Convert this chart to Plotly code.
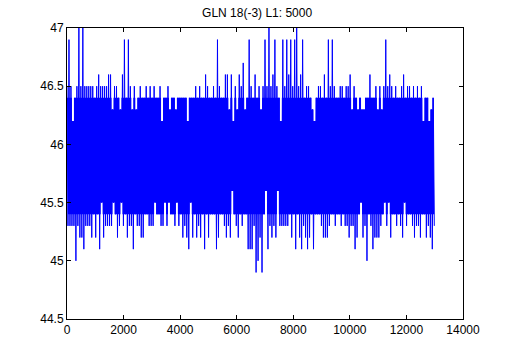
import plotly.graph_objects as go

title_text = "GLN 18(-3) L1: 5000"

# samples represented by each block (upper/lower extent of the signal in that block)
samples_per_block = 70

upper = [
    46.5, 46.9, 46.5, 46.2, 46.4, 46.5, 47.0, 46.5, 47.0, 46.5,
    46.5, 46.5, 46.5, 46.5, 46.4, 46.5, 46.6, 46.5, 46.5, 46.5,
    46.5, 46.6, 46.6, 46.3, 46.5, 46.5, 46.4, 46.3, 46.6, 46.9,
    46.4, 46.9, 46.5, 46.3, 46.5, 46.3, 46.4, 46.5, 46.4, 46.4,
    46.5, 46.4, 46.5, 46.4, 46.5, 46.4, 46.4, 46.5, 46.2, 46.4,
    46.4, 46.5, 46.3, 46.4, 46.4, 46.3, 46.4, 46.4, 46.4, 46.4,
    46.4, 46.2, 46.4, 46.4, 46.4, 46.5, 46.4, 46.5, 46.4, 46.4,
    46.6, 46.5, 46.4, 46.4, 46.5, 46.4, 46.9, 46.5, 46.4, 46.4,
    46.6, 46.6, 46.3, 46.6, 46.2, 46.5, 46.3, 46.6, 46.5, 46.7,
    46.3, 46.4, 46.9, 46.5, 46.4, 46.6, 46.4, 46.5, 46.3, 46.5,
    46.9, 46.5, 47.0, 46.5, 46.6, 46.9, 46.5, 46.4, 46.2, 46.9,
    46.5, 46.9, 46.6, 46.9, 46.5, 46.9, 47.0, 46.5, 46.6, 46.9,
    46.4, 46.5, 46.5, 46.4, 46.3, 46.2, 46.4, 46.5, 46.5, 46.4,
    46.6, 46.4, 46.9, 46.5, 46.9, 46.5, 46.4, 46.4, 46.5, 46.5,
    46.4, 46.5, 46.5, 46.6, 46.3, 46.5, 46.4, 46.3, 46.4, 46.3,
    46.3, 46.4, 46.4, 46.6, 46.4, 46.4, 46.5, 46.3, 46.5, 46.3,
    46.5, 46.9, 46.5, 46.6, 46.5, 46.4, 46.5, 46.4, 46.4, 46.5,
    46.6, 46.4, 46.5, 46.5, 46.4, 46.5, 46.4, 46.5, 46.4, 46.5,
    46.2, 46.4, 46.4, 46.2, 46.3, 46.4,
]

lower = [
    45.3, 45.3, 45.3, 45.3, 45.0, 45.3, 45.2, 45.2, 45.1, 45.3,
    45.3, 45.3, 45.2, 45.4, 45.2, 45.4, 45.1, 45.5, 45.2, 45.3,
    45.3, 45.3, 45.3, 45.5, 45.4, 45.2, 45.3, 45.5, 45.3, 45.4,
    45.2, 45.3, 45.3, 45.1, 45.4, 45.3, 45.3, 45.2, 45.2, 45.4,
    45.4, 45.3, 45.3, 45.3, 45.5, 45.4, 45.4, 45.3, 45.3, 45.5,
    45.3, 45.5, 45.4, 45.4, 45.3, 45.5, 45.3, 45.4, 45.2, 45.3,
    45.2, 45.1, 45.5, 45.2, 45.4, 45.2, 45.3, 45.2, 45.4, 45.1,
    45.4, 45.2, 45.4, 45.4, 45.4, 45.1, 45.2, 45.4, 45.4, 45.3,
    45.2, 45.3, 45.2, 45.6, 45.4, 45.3, 45.2, 45.4, 45.3, 45.4,
    45.4, 45.1, 45.1, 45.1, 45.3, 44.9, 45.0, 45.2, 44.9, 45.4,
    45.6, 45.1, 45.3, 45.2, 45.3, 45.2, 45.6, 45.3, 45.3, 45.3,
    45.3, 45.3, 45.4, 45.2, 45.4, 45.1, 45.4, 45.2, 45.1, 45.3,
    45.2, 45.1, 45.2, 45.4, 45.1, 45.4, 45.4, 45.4, 45.3, 45.2,
    45.2, 45.2, 45.3, 45.4, 45.4, 45.3, 45.4, 45.4, 45.3, 45.4,
    45.3, 45.3, 45.2, 45.3, 45.3, 45.1, 45.2, 45.4, 45.5, 45.2,
    45.3, 45.0, 45.4, 45.3, 45.1, 45.2, 45.2, 45.2, 45.3, 45.4,
    45.5, 45.3, 45.5, 45.2, 45.4, 45.4, 45.3, 45.4, 45.3, 45.2,
    45.5, 45.3, 45.4, 45.4, 45.3, 45.2, 45.3, 45.3, 45.2, 45.4,
    45.4, 45.2, 45.3, 45.2, 45.1, 45.3,
]

# range over which the dense signal paints a solid band
solid_band = [45.4, 46.4]

x_ticks = [0, 2000, 4000, 6000, 8000, 10000, 12000, 14000]
y_ticks = [44.5, 45, 45.5, 46, 46.5, 47]
y_tick_labels = ["44.5", "45", "45.5", "46", "46.5", "47"]

# interleave the block extents into one zig-zag signal trace
xs, ys = [], []
x_hi, x_lo = [], []
for i, (hi, lo) in enumerate(zip(upper, lower)):
    xh = i * samples_per_block
    xl = i * samples_per_block + samples_per_block // 2
    x_hi.append(xh)
    x_lo.append(xl)
    xs += [xh, xl]
    ys += [hi, lo]

core_top = [min(h, solid_band[1]) for h in upper]
core_bot = [max(l, solid_band[0]) for l in lower]

blue = "#0000ff"
fig = go.Figure()
fig.add_trace(go.Scatter(
    x=x_lo, y=core_bot, mode="lines", line=dict(width=0, color=blue, shape="hvh"),
    showlegend=False, hoverinfo="skip",
))
fig.add_trace(go.Scatter(
    x=x_hi, y=core_top, mode="lines", line=dict(width=0, color=blue, shape="hvh"),
    fill="tonexty", fillcolor=blue, showlegend=False, hoverinfo="skip",
))
fig.add_trace(go.Scatter(
    x=xs, y=ys, mode="lines",
    line=dict(color=blue, width=1, simplify=False),
    showlegend=False, hoverinfo="skip",
))

font = dict(family="Liberation Sans, Arial, sans-serif", size=12, color="black")
axis_common = dict(
    showline=True, linecolor="black", linewidth=1, mirror="allticks",
    ticks="inside", ticklen=4, tickwidth=1, tickcolor="black",
    showgrid=False, zeroline=False, tickfont=font,
)
fig.update_xaxes(range=[0, 14000], tickmode="array", tickvals=x_ticks,
                 ticktext=[str(v) for v in x_ticks], **axis_common)
fig.update_yaxes(range=[44.5, 47], tickmode="array", tickvals=y_ticks,
                 ticktext=y_tick_labels, **axis_common)

fig.update_layout(
    width=512, height=358,
    margin=dict(l=67, r=49, t=28, b=39),
    paper_bgcolor="white", plot_bgcolor="white",
    hovermode=False,
    title=dict(text=title_text, x=0.48, xref="paper", xanchor="center",
               y=1 - 13 / 358, yref="container", yanchor="middle", font=font),
)

fig.write_html("out.html", config={"displayModeBar": False, "staticPlot": True},
               post_script="document.body.style.margin = '0';")
